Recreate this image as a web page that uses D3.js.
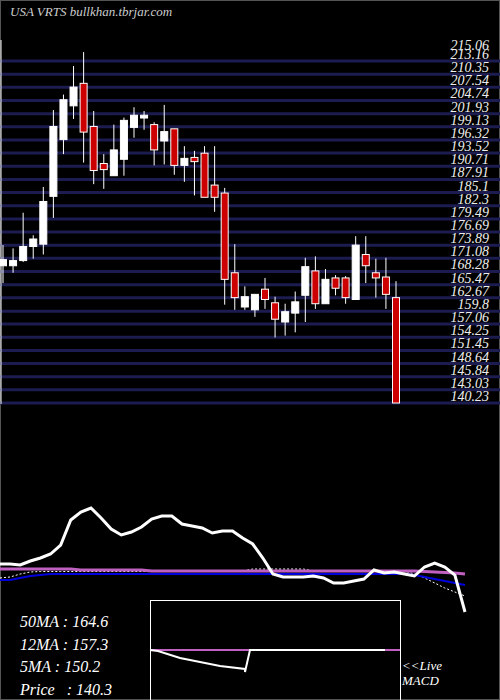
<!DOCTYPE html>
<html>
<head>
<meta charset="utf-8">
<script src="https://cdn.jsdelivr.net/npm/d3@7"></script>
<style>
body { margin:0; background:#000; }
svg { display:block; }
text { font-family: "Liberation Serif", "DejaVu Serif", serif; font-style: italic; }
</style>
</head>
<body>
<script>
// candles: open, high, low, close
var opens  = [169.5,169.5,170.6,173.6,174.1,184.3,196.4,203.6,208.4,199.2,191.3,188.7,192.2,199.0,201.0,199.6,196.1,198.7,190.9,192.6,193.5,186.7,185.0,168.0,160.7,160.1,164.5,161.6,157.5,159.4,163.2,168.4,161.4,166.9,166.9,162.3,171.9,168.0,167.1,162.7];
var highs  = [173.9,173.2,180.8,176.0,186.3,202.7,206.0,212.1,215.06,202.5,193.3,199.6,201.1,203.3,202.5,200.1,203.8,198.7,195.0,194.0,195.0,195.0,186.1,174.1,165.1,163.4,166.9,162.9,161.4,164.0,171.2,171.5,168.8,167.5,167.3,175.8,175.8,171.0,171.2,166.2];
var lows   = [165.8,168.0,170.3,171.0,171.9,179.7,193.3,200.8,191.5,186.9,185.9,188.7,188.7,196.8,198.5,190.9,191.1,188.9,187.4,184.5,184.1,181.0,161.2,160.1,160.1,158.6,160.3,154.2,154.6,155.3,157.5,160.3,161.4,163.2,161.4,162.3,165.8,162.7,160.3,140.23];
var closes = [170.8,170.6,173.6,175.2,183.2,199.2,204.9,207.6,198.0,189.8,190.0,194.2,200.5,201.6,201.6,194.2,198.1,190.9,192.4,191.7,184.1,184.1,166.6,162.7,162.9,163.4,162.3,158.1,159.7,161.8,169.3,161.4,166.6,164.7,162.7,173.9,169.5,166.9,163.4,140.23];

var priceTicks = [213.16,210.35,207.54,204.74,201.93,199.13,196.32,193.52,190.71,187.91,185.1,182.3,179.49,176.69,173.89,171.08,168.28,165.47,162.67,159.8,157.06,154.25,151.45,148.64,145.84,143.03,140.23];
var topLabel = 215.06;

// indicator panel (one value per step)
var oscWhite = [56,56,55,59,62,66,75,100,108,112,102,91,85,88,93,101,104,104,96,94,92,87,89,89,82,76,62,46,43,43,43,44,42,37,37,39,41,50,47,48,46,44,53,57,53,45,8];
var oscMagenta = [51,51,51,51,51,51,51,51,50,50,50,50,50,50,50,49,49,49,49,49,49,49,49,49,49,49,49,49,49,49,49,49,49,49,49,49,49,49,49,49,49,49,48.5,48,47.5,47,46];
var oscBlue = [40,40,42,44,45,46,46,46,46,46,46,46,46,46,46,46,46,46,46,46,46,46,46,46,46,46,46,46,46,46,46,46,46,46,46,46,46,46,46,46,46,45,43,41,39,37,35];
var oscDotted = [42,43,46,48,48.5,48.5,48.5,48.5,48.5,48.5,48.5,48.5,48.5,48.5,48.5,48.5,49,49,49,49,49,49,49,49,49,51,51,51,51,51,51,49,49,49,49,49,49,49,49,49,49,46,42,37,32,28,24];

var macdWhite = [50,49.5,46,44,42,40.5,39,50,50,50,50,50,50,50,50];
var macdX = [0,8,30,50,70,95,95,100,140,180,220,235,235,235,235];
var macdSignal = 50;

var labels = ["50MA : 164.6","12MA : 157.3","5MA : 150.2","Price   : 140.3"];

var svg = d3.select("body").append("svg").attr("width",500).attr("height",700);
svg.append("rect").attr("width",500).attr("height",700).attr("fill","#000");
svg.append("rect").attr("x",0.5).attr("y",0.5).attr("width",499).attr("height",699)
    .attr("fill","none").attr("stroke","#555");

var y = d3.scaleLinear().domain([140.23,213.16]).range([403,61]);
var x = d3.scaleLinear().domain([0,39]).range([3,396]);

svg.append("text").attr("x",10).attr("y",16).attr("fill","#ccc").attr("font-size",13)
    .text("USA VRTS bullkhan.tbrjar.com");

svg.selectAll("line.grid").data(priceTicks).enter().append("line")
    .attr("class","grid")
    .attr("x1",0).attr("x2",500)
    .attr("y1",function(d){return y(d);}).attr("y2",function(d){return y(d);})
    .attr("stroke","#1c1c50").attr("stroke-width",3);

svg.selectAll("text.tick").data([topLabel].concat(priceTicks)).enter().append("text")
    .attr("class","tick")
    .attr("x",489).attr("text-anchor","end")
    .attr("y",function(d){return y(d)-2;})
    .attr("fill","#eee").attr("font-size",14)
    .text(function(d){return d;});

svg.append("line").attr("x1",1).attr("x2",1).attr("y1",40).attr("y2",404)
    .attr("stroke","#fff").attr("stroke-width",1);

var idx = d3.range(opens.length);
svg.selectAll("line.wick").data(idx).enter().append("line")
    .attr("class","wick")
    .attr("x1",function(i){return x(i);}).attr("x2",function(i){return x(i);})
    .attr("y1",function(i){return y(highs[i]);}).attr("y2",function(i){return y(lows[i]);})
    .attr("stroke","#fff").attr("stroke-width",1);

svg.selectAll("rect.body").data(idx).enter().append("rect")
    .attr("class","body")
    .attr("x",function(i){return x(i)-3.5;}).attr("width",7)
    .attr("y",function(i){return y(Math.max(opens[i],closes[i]));})
    .attr("height",function(i){return Math.max(2,Math.abs(y(opens[i])-y(closes[i])));})
    .attr("fill",function(i){return closes[i]>=opens[i]?"#fff":"#cc0000";})
    .attr("stroke","#fff").attr("stroke-width",1);

// indicator
var xo = d3.scaleLinear().domain([0,46]).range([0,465]);
var yo = d3.scaleLinear().domain([0,120]).range([620,500]);
var line = d3.line().x(function(d,i){return xo(i);}).y(function(d){return yo(d);});

svg.append("path").datum(oscDotted).attr("d",line).attr("fill","none")
    .attr("stroke","#fff").attr("stroke-width",1).attr("stroke-dasharray","2,2");
svg.append("path").datum(oscBlue).attr("d",line).attr("fill","none")
    .attr("stroke","#0000dd").attr("stroke-width",2);
svg.append("path").datum(oscMagenta).attr("d",line).attr("fill","none")
    .attr("stroke","#c060c0").attr("stroke-width",3);
svg.append("path").datum(oscWhite).attr("d",line).attr("fill","none")
    .attr("stroke","#fff").attr("stroke-width",3);

// macd box
var mx = d3.scaleLinear().domain([0,250]).range([150,400]);
var my = d3.scaleLinear().domain([0,100]).range([750,550]);
svg.append("rect").attr("x",150.5).attr("y",600.5).attr("width",250).attr("height",110)
    .attr("fill","none").attr("stroke","#fff");
svg.append("line").attr("x1",mx(0)).attr("x2",mx(250)).attr("y1",my(macdSignal)).attr("y2",my(macdSignal))
    .attr("stroke","#c060c0").attr("stroke-width",2);
svg.append("path").datum(macdWhite)
    .attr("d",d3.line().x(function(d,i){return mx(macdX[i]);}).y(function(d){return my(d);}))
    .attr("fill","none").attr("stroke","#fff").attr("stroke-width",2);

svg.selectAll("text.lbl").data(labels).enter().append("text")
    .attr("class","lbl")
    .attr("x",20).attr("y",function(d,i){return 627+i*22.5;})
    .attr("fill","#fff").attr("font-size",16)
    .attr("xml:space","preserve")
    .text(function(d){return d;});

svg.selectAll("text.live").data(["<<Live","MACD"]).enter().append("text")
    .attr("class","live")
    .attr("x",402).attr("y",function(d,i){return 670+i*15;})
    .attr("fill","#fff").attr("font-size",13)
    .text(function(d){return d;});
</script>
</body>
</html>
